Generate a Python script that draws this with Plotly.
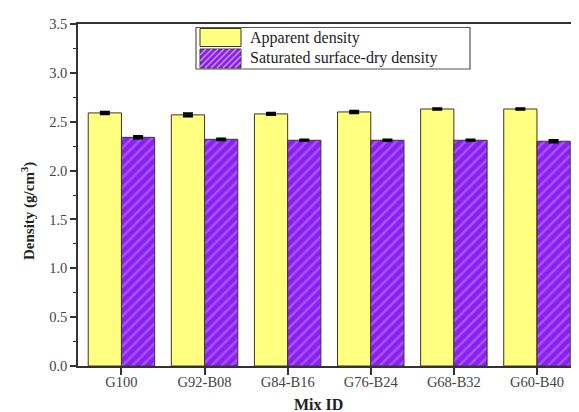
import plotly.graph_objects as go

categories = ["G100", "G92-B08", "G84-B16", "G76-B24", "G68-B32", "G60-B40"]
apparent = [2.59, 2.57, 2.58, 2.60, 2.63, 2.63]
apparent_err = [0.01, 0.015, 0.01, 0.01, 0.006, 0.006]
ssd = [2.34, 2.32, 2.31, 2.31, 2.31, 2.30]
ssd_err = [0.01, 0.006, 0.006, 0.006, 0.006, 0.01]
series_names = ["Apparent density", "Saturated surface-dry density"]
y_ticks = [0.0, 0.5, 1.0, 1.5, 2.0, 2.5, 3.0, 3.5]

W, H = 579, 412
ML, MR, MT, MB = 70, 2, 16, 54
PW, PH = W - ML - MR, H - MT - MB

YELLOW = "#FFFF80"
PURPLE = "#8A1EF5"
STRIPE = "#C290FF"
EDGE = "#3A3A1A"
FONT = "Liberation Serif"

fig = go.Figure()
fig.add_trace(go.Bar(
    x=categories, y=apparent, name=series_names[0],
    marker=dict(color=YELLOW, line=dict(color=EDGE, width=1)),
    error_y=dict(type="data", array=apparent_err, color="black", thickness=2.5, width=5),
    showlegend=False,
))
fig.add_trace(go.Bar(
    x=categories, y=ssd, name=series_names[1],
    marker=dict(color=PURPLE, line=dict(color=EDGE, width=1),
                pattern=dict(shape="/", bgcolor=PURPLE, fgcolor=STRIPE, size=7, solidity=0.35)),
    error_y=dict(type="data", array=ssd_err, color="black", thickness=2.5, width=5),
    showlegend=False,
))


def px(x):
    return (x - ML) / PW


def py(y):
    return (H - MB - y) / PH


shapes = []
# legend box
shapes.append(dict(type="rect", xref="paper", yref="paper",
                   x0=px(188), x1=px(462), y0=py(61), y1=py(19.5),
                   line=dict(color="#555555", width=1.2), fillcolor="white", layer="above"))
# yellow swatch
shapes.append(dict(type="rect", xref="paper", yref="paper",
                   x0=px(192), x1=px(233), y0=py(38.5), y1=py(20.5),
                   line=dict(color=EDGE, width=1), fillcolor=YELLOW, layer="above"))
# purple swatch
sx0, sx1, sy0, sy1 = 192, 233, 41, 60
shapes.append(dict(type="rect", xref="paper", yref="paper",
                   x0=px(sx0), x1=px(sx1), y0=py(sy1), y1=py(sy0),
                   line=dict(color=EDGE, width=1), fillcolor=PURPLE, layer="above"))
# hatch lines in purple swatch ("/" direction)
step = 6
hgt = sy1 - sy0
c = sx0 - hgt
while c < sx1:
    xa, ya = c, sy1
    xb, yb = c + hgt, sy0
    if xa < sx0:
        ya = sy1 - (sx0 - xa)
        xa = sx0
    if xb > sx1:
        yb = sy0 + (xb - sx1)
        xb = sx1
    if xb > xa:
        shapes.append(dict(type="line", xref="paper", yref="paper",
                           x0=px(xa), y0=py(ya), x1=px(xb), y1=py(yb),
                           line=dict(color=STRIPE, width=1.6), layer="above"))
    c += step

annotations = [
    dict(xref="paper", yref="paper", x=px(240), y=py(29.5), xanchor="left", yanchor="middle",
         text=series_names[0], showarrow=False, font=dict(family=FONT, size=16, color="#222")),
    dict(xref="paper", yref="paper", x=px(240), y=py(50.5), xanchor="left", yanchor="middle",
         text=series_names[1], showarrow=False, font=dict(family=FONT, size=16, color="#222")),
    # axis titles
    dict(xref="paper", yref="paper", x=px(310), y=py(397), xanchor="center", yanchor="middle",
         text="<b>Mix ID</b>", showarrow=False, font=dict(family=FONT, size=16, color="#222")),
    dict(xref="paper", yref="paper", x=px(20), y=py(203), xanchor="center", yanchor="middle",
         text="<b>Density (g/cm<sup>3</sup>)</b>", textangle=-90, showarrow=False,
         font=dict(family=FONT, size=15, color="#222")),
]

fig.update_layout(
    width=W, height=H,
    margin=dict(l=ML, r=MR, t=MT, b=MB, autoexpand=False),
    paper_bgcolor="white", plot_bgcolor="white",
    barmode="group", bargap=0.2, bargroupgap=0.0,
    font=dict(family=FONT, color="#444"),
    shapes=shapes, annotations=annotations,
)
fig.update_xaxes(
    range=[-0.523, 5.578], showline=True, linecolor="#333", linewidth=1.5, mirror=True,
    ticks="outside", ticklen=7, tickwidth=1.5, tickcolor="#333",
    tickfont=dict(family=FONT, size=14.5, color="#444"),
    ticklabelstandoff=-5,
    showgrid=False,
)
fig.update_yaxes(
    range=[0, 3.5], tickvals=y_ticks, ticktext=[f"{v:.1f}" for v in y_ticks],
    showline=True, linecolor="#333", linewidth=1.5, mirror=True,
    ticks="outside", ticklen=6, tickwidth=1.5, tickcolor="#333",
    minor=dict(dtick=0.25, ticks="outside", ticklen=3, tickwidth=1.2, tickcolor="#333", showgrid=False),
    tickfont=dict(family=FONT, size=14.5, color="#444"),
    showgrid=False, zeroline=False,
)

fig.write_html("out.html")
